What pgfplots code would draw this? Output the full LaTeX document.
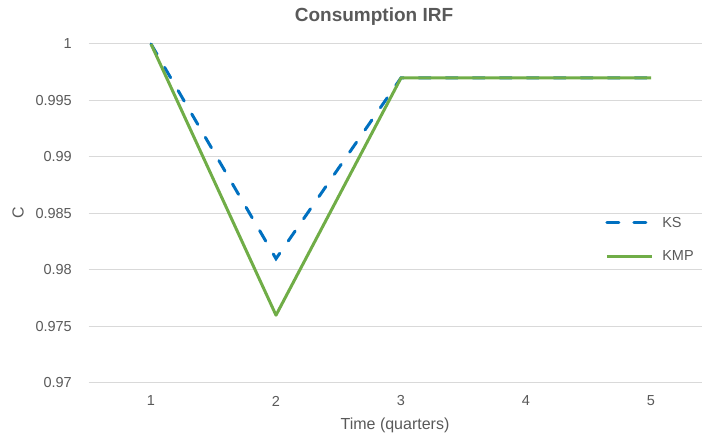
\documentclass[border=0pt]{standalone}
\usepackage{fontspec}
\setmainfont{Liberation Sans}
\usepackage{pgfplots}
\pgfplotsset{compat=1.18}
\definecolor{ksblue}{HTML}{0070C0}
\definecolor{kmpgreen}{HTML}{70AD47}
\definecolor{txtgray}{HTML}{595959}
\definecolor{gridgray}{HTML}{D9D9D9}
\begin{document}
\begin{tikzpicture}[x=1bp,y=1bp]
\path[use as bounding box] (-88.5,-56) rectangle (613.5,383);
\begin{axis}[
  at={(0,0)}, anchor=south west,
  scale only axis, width=613.5bp, height=339bp,
  xmin=0.5, xmax=5.408, ymin=0.97, ymax=1,
  clip=false,
  axis line style={draw=none},
  major tick length=0pt,
  ymajorgrids, grid style={gridgray, line width=1bp},
  xtick={1,2,3,4,5},
  ytick={0.97,0.975,0.98,0.985,0.99,0.995,1},
  yticklabels={0.97,0.975,0.98,0.985,0.99,0.995,1},
  /pgf/number format/assume math mode=true,
  ticklabel style={font=\fontsize{14.5bp}{17bp}\selectfont, text=txtgray, inner sep=0pt},
  yticklabel style={anchor=east, xshift=-16.5bp},
  xticklabel style={anchor=center, yshift=-18bp},
  legend style={draw=none, fill=none, at={(rel axis cs:0.842,0.423)}, anchor=west,
    font=\fontsize{14.5bp}{17bp}\selectfont, text=txtgray, inner sep=0pt, row sep=18bp,
    nodes={inner xsep=9bp}},
  legend cell align=left,
  legend image code/.code={\draw[#1] (0bp,0bp) -- (45bp,0bp);},
]
\addplot[ksblue, line width=3bp, dash pattern=on 12bp off 15bp, line cap=round]
  coordinates {(1,1) (2,0.981) (3,0.997) (4,0.997) (5,0.997)};
\addlegendentry{KS}
\addplot[kmpgreen, line width=3bp, line join=round]
  coordinates {(1,1) (2,0.976) (3,0.997) (4,0.997) (5,0.997)};
\addlegendentry{KMP}
\end{axis}
\node[font=\bfseries\fontsize{19bp}{22bp}\selectfont, text=txtgray] at (285.5,366) {Consumption IRF};
\node[font=\fontsize{16bp}{19bp}\selectfont, text=txtgray, rotate=90] at (-70.5,170) {C};
\node[font=\fontsize{16bp}{19bp}\selectfont, text=txtgray] at (306.5,-42) {Time (quarters)};
\end{tikzpicture}
\end{document}
